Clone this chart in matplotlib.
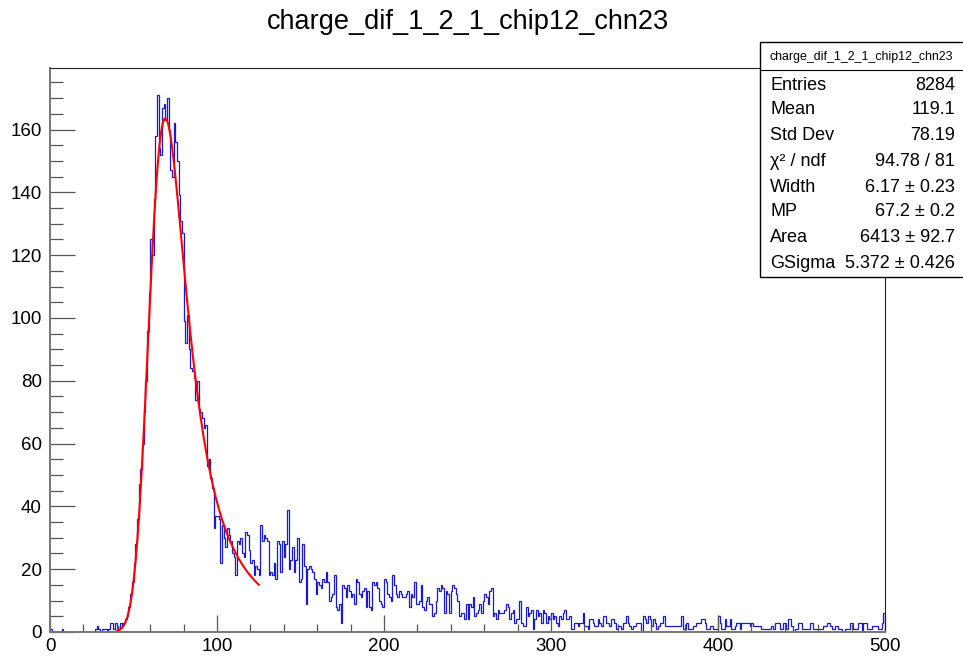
import numpy as np
import matplotlib
matplotlib.use("Agg")
import matplotlib.pyplot as plt
from matplotlib.patches import Rectangle
from matplotlib.lines import Line2D
from matplotlib.ticker import MultipleLocator

plt.rcParams['font.family'] = ['Liberation Sans', 'DejaVu Sans']

title = "charge_dif_1_2_1_chip12_chn23"
x_range = (0, 500)
y_max = 179.6

# bin contents, one bin per unit from 0 to 500
counts = [
    1, 0, 0, 0, 0, 0, 0, 1, 0, 0, 0, 0, 0, 0, 0, 0, 0, 0, 0, 0,
    0, 0, 0, 0, 0, 0, 0, 1, 2, 1, 0, 1, 1, 1, 0, 1, 3, 3, 1, 3,
    2, 1, 3, 2, 3, 4, 5, 8, 12, 16, 22, 28, 36, 47, 52, 60, 70, 80, 96, 108,
    125, 120, 138, 158, 171, 154, 152, 167, 168, 163, 170, 160, 147, 145, 162, 156, 150, 139, 131, 127,
    99, 92, 101, 90, 84, 83, 81, 74, 80, 71, 70, 68, 65, 66, 53, 55, 49, 46, 33, 37,
    37, 36, 22, 34, 30, 27, 33, 31, 29, 25, 24, 18, 29, 28, 30, 25, 24, 32, 31, 26,
    22, 23, 18, 21, 20, 18, 34, 29, 31, 30, 29, 18, 19, 18, 22, 17, 29, 28, 19, 29,
    24, 28, 39, 20, 23, 27, 19, 23, 30, 16, 17, 28, 21, 9, 20, 21, 20, 19, 17, 12,
    16, 15, 14, 17, 16, 19, 16, 10, 11, 12, 18, 8, 7, 9, 3, 15, 14, 11, 15, 13,
    11, 12, 9, 17, 16, 12, 11, 13, 14, 8, 13, 8, 7, 16, 15, 16, 14, 10, 9, 8,
    17, 16, 12, 11, 10, 18, 15, 12, 11, 13, 12, 11, 11, 12, 13, 8, 12, 11, 16, 9,
    9, 10, 15, 8, 7, 10, 11, 9, 9, 5, 6, 10, 14, 13, 15, 14, 6, 13, 12, 6,
    13, 15, 14, 12, 10, 5, 6, 6, 4, 9, 4, 9, 8, 11, 5, 6, 7, 9, 6, 10,
    12, 11, 9, 13, 14, 5, 6, 4, 7, 6, 6, 6, 7, 9, 8, 4, 6, 7, 3, 4,
    4, 10, 3, 2, 2, 8, 5, 6, 7, 1, 4, 7, 5, 6, 3, 7, 6, 3, 5, 4,
    6, 4, 5, 3, 2, 5, 4, 6, 7, 4, 4, 5, 1, 1, 3, 3, 2, 3, 3, 6,
    2, 2, 1, 4, 4, 3, 2, 2, 4, 3, 2, 5, 5, 3, 3, 2, 4, 4, 3, 1,
    2, 2, 1, 3, 3, 5, 3, 2, 1, 2, 2, 3, 3, 3, 0, 5, 4, 3, 5, 4,
    2, 4, 3, 1, 2, 3, 3, 5, 2, 2, 2, 2, 2, 2, 2, 2, 2, 2, 5, 1,
    1, 3, 1, 1, 1, 2, 2, 3, 3, 3, 4, 4, 3, 1, 1, 2, 2, 1, 1, 1,
    5, 3, 1, 1, 4, 2, 2, 4, 1, 1, 2, 3, 3, 1, 3, 3, 3, 3, 3, 2,
    3, 2, 2, 2, 2, 2, 1, 1, 1, 1, 1, 1, 2, 1, 3, 3, 3, 1, 1, 3,
    3, 1, 4, 4, 2, 0, 1, 1, 3, 3, 1, 1, 1, 1, 1, 3, 3, 1, 1, 1,
    1, 1, 1, 2, 2, 3, 3, 2, 1, 1, 2, 2, 1, 1, 0, 0, 1, 1, 1, 3,
    3, 1, 1, 1, 3, 3, 0, 3, 3, 1, 1, 1, 2, 2, 2, 2, 1, 1, 3, 6,
]

# Landau (x) Gauss fit parameters
fit_width = 6.17
fit_mp = 67.2
fit_area = 6413.0
fit_gsigma = 5.372
fit_range = (40.0, 125.0)

stats_title = "charge_dif_1_2_1_chip12_chn23"
stats_labels = ["Entries", "Mean", "Std Dev", "χ² / ndf", "Width", "MP", "Area", "GSigma"]
stats_values = ["8284", "119.1", "78.19", "94.78 / 81", "6.17 ± 0.23",
                "67.2 ± 0.2", "6413 ± 92.7", "5.372 ± 0.426"]


def landau_pdf(lam):
    """Standard Landau density via its characteristic-function integral."""
    lam = np.asarray(lam, dtype=float)
    t = np.linspace(1e-9, 30.0, 8000)
    damp = np.exp(-np.pi * t / 2.0)
    tlogt = t * np.log(t)
    out = np.empty_like(lam)
    step = 250
    for i in range(0, lam.size, step):
        l = lam[i:i + step, None]
        integrand = damp * np.cos(tlogt + l * t)
        out[i:i + step] = np.trapezoid(integrand, t, axis=1) / np.pi
    return out


def langaus(x, width, mp, area, gsigma):
    mpshift = -0.22278298
    mpc = mp - mpshift * width
    h = 0.05
    grid = np.arange(x.min() - 6 * gsigma, x.max() + 6 * gsigma, h)
    dens = landau_pdf((grid - mpc) / width) / width
    n = int(round(5 * gsigma / h))
    kx = np.arange(-n, n + 1) * h
    kern = np.exp(-0.5 * (kx / gsigma) ** 2) / (np.sqrt(2 * np.pi) * gsigma) * h
    smeared = np.convolve(dens, kern, mode="same")
    return area * np.interp(x, grid, smeared)


edges = np.linspace(x_range[0], x_range[1], len(counts) + 1)
x_fit = np.linspace(fit_range[0], fit_range[1], 400)
y_fit = langaus(x_fit, fit_width, fit_mp, fit_area, fit_gsigma)

W, H = 963, 658
fig = plt.figure(figsize=(W / 100, H / 100), dpi=100)
ax = fig.add_axes([50 / W, 1 - 632 / H, 835 / W, 564 / H])

ax.stairs(counts, edges, color="#1a1acc", lw=0.9)
ax.plot(x_fit, y_fit, color="#ff0000", lw=1.5)

ax.set_xlim(*x_range)
ax.set_ylim(0, y_max)

ax.xaxis.set_major_locator(MultipleLocator(100))
ax.xaxis.set_minor_locator(MultipleLocator(20))
ax.yaxis.set_major_locator(MultipleLocator(20))
ax.yaxis.set_minor_locator(MultipleLocator(5))

tick_col = "#555555"
ax.tick_params(axis="both", which="both", direction="in", colors=tick_col,
               labelcolor="black", labelsize=13.5, top=False, right=False)
ax.tick_params(axis="y", which="major", length=18, width=0.9, pad=6)
ax.tick_params(axis="y", which="minor", length=9, width=0.9)
ax.tick_params(axis="x", which="major", length=12, width=0.9, pad=4)
ax.tick_params(axis="x", which="minor", length=6, width=0.9)

for side in ("left", "bottom"):
    ax.spines[side].set_color("#777777")
    ax.spines[side].set_linewidth(1.4)
for side in ("top", "right"):
    ax.spines[side].set_color("#222222")
    ax.spines[side].set_linewidth(0.8)

fig.text(467.5 / W, 1 - 22 / H, title, ha="center", va="center", fontsize=19.5)

# statistics box
bx0, bx1 = 760 / W, 1.0
by_top, by_bot = 1 - 42 / H, 1 - 277 / H
fig.add_artist(Rectangle((bx0, by_bot), bx1 - bx0 + 0.01, by_top - by_bot,
                         transform=fig.transFigure, facecolor="white",
                         edgecolor="black", lw=1.0, zorder=10))
sep_y = 1 - 70 / H
fig.add_artist(Line2D([bx0, 1.0], [sep_y, sep_y], transform=fig.transFigure,
                      color="black", lw=0.8, zorder=11))
fig.text(861.5 / W, 1 - 57 / H, stats_title, ha="center", va="center",
         fontsize=8.9, zorder=12)
row_px = [85, 110, 135, 161, 187, 212, 238, 263]
for lab, val, ypx in zip(stats_labels, stats_values, row_px):
    yc = 1 - ypx / H
    fig.text(770 / W, yc, lab, ha="left", va="center", fontsize=13, zorder=12)
    fig.text(955 / W, yc, val, ha="right", va="center", fontsize=13, zorder=12)

fig.savefig("out.png", dpi=100)
